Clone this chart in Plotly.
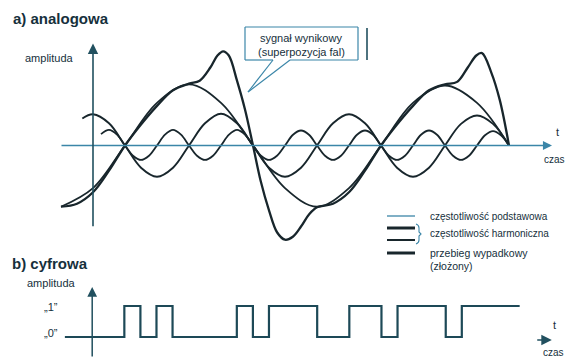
import plotly.graph_objects as go

W, H = 566, 359

# ---------------- data ----------------
# analog panel: phase of the fundamental (degrees) vs amplitude (fundamental = 1)
t_fund = [-90, -45, 0, 45, 90, 135, 180, 225, 270, 315, 360, 405, 450, 495, 540]
a_fund = [-1.02, -0.71, 0, 0.71, 1.02, 0.71, 0, -0.71, -1.02, -0.71, 0, 0.71, 1.0, 0.71, 0]

t_h2 = [-60, -45, -22.5, 0, 22.5, 45, 67.5, 90, 112.5, 135, 157.5, 180, 202.5, 225, 247.5,
        270, 292.5, 315, 337.5, 360, 382.5, 405, 427.5, 450, 472.5, 495, 517.5, 540]
a_h2 = [0.45, 0.52, 0.37, 0, -0.37, -0.52, -0.37, 0, 0.37, 0.53, 0.37, 0, -0.37, -0.52, -0.37,
        0, 0.37, 0.52, 0.37, 0, -0.37, -0.52, -0.37, 0, 0.36, 0.50, 0.36, 0]

t_h4 = [-33.75, -22.5, -11.25, 0, 11.25, 22.5, 33.75, 45, 56.25, 67.5, 78.75, 90, 101.25,
        112.5, 123.75, 135, 146.25, 157.5, 168.75, 180, 191.25, 202.5, 213.75, 225, 236.25,
        247.5, 258.75, 270, 281.25, 292.5, 303.75, 315, 326.25, 337.5, 348.75, 360, 371.25,
        382.5, 393.75, 405, 416.25, 427.5, 438.75, 450, 461.25, 472.5, 483.75, 495, 506.25,
        517.5, 528.75, 540]
a_h4 = [0.19, 0.26, 0.18, 0, -0.17, -0.24, -0.17, 0, 0.18, 0.26, 0.18, 0, -0.17,
        -0.24, -0.17, 0, 0.18, 0.26, 0.18, 0, -0.17, -0.24, -0.17, 0, 0.18,
        0.25, 0.18, 0, -0.17, -0.24, -0.17, 0, 0.18, 0.25, 0.18, 0, -0.17,
        -0.24, -0.17, 0, 0.18, 0.25, 0.18, 0, -0.17, -0.24, -0.17, 0, 0.17,
        0.24, 0.17, 0]

t_res = [-90, -67.5, -45, -22.5, 0, 22.5, 45, 67.5, 90, 105, 120, 130, 138, 146, 157.5, 168.75,
         180, 191, 202.5, 214, 225, 236, 247.5, 258.75, 270, 292.5, 315, 337.5, 360, 382.5,
         405, 427.5, 450, 467, 482, 494, 502, 515, 527, 540]
a_res = [-1.02, -0.97, -0.78, -0.42, 0, 0.35, 0.66, 0.92, 1.03, 1.08, 1.3, 1.5, 1.57, 1.5, 1.08, 0.6,
         0, -0.6, -1.08, -1.45, -1.57, -1.52, -1.35, -1.15, -1.03, -0.97, -0.78, -0.42, 0, 0.35,
         0.66, 0.92, 1.02, 1.06, 1.3, 1.5, 1.54, 1.22, 0.76, 0]

# digital panel: bit values per bit slot
bit_slots = list(range(0, 27))
bit_values = [0, 0, 1, 0, 1, 0, 0, 0, 0, 1, 0, 1, 1, 1, 0, 0, 1, 1, 0, 1, 1, 1, 0, 1, 1, 1, 1]
bit_start, bit_end = -1.7, 26.6

# ---------------- helpers (layout only) ----------------
def px(x):
    return x / W

def py(y):
    return 1 - y / H

INK = "#18262c"
TXT = "#16303c"
AXIS = "#21505f"
ZERO = "#3b86a8"

fig = go.Figure()

curve_style = dict(mode="lines", line_shape="spline", hoverinfo="skip", showlegend=False)
fig.add_trace(go.Scatter(x=t_fund, y=a_fund, line=dict(color=INK, width=1.8), xaxis="x", yaxis="y", **curve_style))
fig.add_trace(go.Scatter(x=t_h2, y=a_h2, line=dict(color=INK, width=1.9), xaxis="x", yaxis="y", **curve_style))
fig.add_trace(go.Scatter(x=t_h4, y=a_h4, line=dict(color=INK, width=1.8), xaxis="x", yaxis="y", **curve_style))
fig.add_trace(go.Scatter(x=t_res, y=a_res, line=dict(color=INK, width=2.3), xaxis="x", yaxis="y", **curve_style))

dx = [bit_start] + bit_slots + [bit_end]
dy = [0] + bit_values + [bit_values[-1]]
fig.add_trace(go.Scatter(x=dx, y=dy, mode="lines", line=dict(color="#1d4957", width=2.2, shape="hv"),
                         xaxis="x2", yaxis="y2", hoverinfo="skip", showlegend=False))

# analog axes: pixel x = 125 + t*128/180 ; pixel y = 145.5 - 60*a
fig.update_layout(
    width=W, height=H, margin=dict(l=0, r=0, t=0, b=0),
    paper_bgcolor="white", plot_bgcolor="rgba(0,0,0,0)",
    xaxis=dict(domain=[0, 1], range=[-175.78, 620.16], visible=False, fixedrange=True),
    yaxis=dict(domain=[1 - 260 / H, 1], range=[(145.5 - 260) / 60, 145.5 / 60], visible=False, fixedrange=True),
    xaxis2=dict(domain=[0, 1], range=[-92.2 / 16.07, (566 - 92.2) / 16.07], visible=False, fixedrange=True, anchor="y2"),
    yaxis2=dict(domain=[0, 1 - 260 / H], range=[(337 - 359) / 31, (337 - 260) / 31], visible=False, fixedrange=True, anchor="x2"),
)

ann = []
# analog axes arrows
ann.append(dict(x=600.5, y=0, ax=-91.4, ay=0, xref="x", yref="y", axref="x", ayref="y", text="",
                showarrow=True, arrowhead=2, arrowsize=1.3, arrowwidth=1.4, arrowcolor=ZERO))
ann.append(dict(x=-45, y=1.70, ax=-45, ay=-1.37, xref="x", yref="y", axref="x", ayref="y", text="",
                showarrow=True, arrowhead=2, arrowsize=1.3, arrowwidth=1.6, arrowcolor=AXIS))
# digital axes arrows
ann.append(dict(x=0, y=1.613, ax=0, ay=-0.677, xref="x2", yref="y2", axref="x2", ayref="y2", text="",
                showarrow=True, arrowhead=2, arrowsize=1.3, arrowwidth=1.5, arrowcolor=AXIS))
ann.append(dict(x=28.6, y=-0.1, ax=27.6, ay=-0.1, xref="x2", yref="y2", axref="x2", ayref="y2", text="",
                showarrow=True, arrowhead=2, arrowsize=1.4, arrowwidth=1.5, arrowcolor=AXIS))

def label(x, y, text, size=11, bold=False, anchor="left"):
    t = f"<b>{text}</b>" if bold else text
    ann.append(dict(x=px(x), y=py(y), xref="paper", yref="paper", text=t, showarrow=False,
                    xanchor=anchor, yanchor="middle",
                    font=dict(family="Liberation Sans, Arial, sans-serif", size=size, color=TXT)))

label(11, 19, "a) analogowa", size=15, bold=True)
label(23, 58, "amplituda", size=11)
label(557, 132, "t", size=11, anchor="center")
label(542, 160, "czas", size=10)

label(301, 38, "sygnał wynikowy", size=11, anchor="center")
label(301, 52, "(superpozycja fal)", size=11, anchor="center")

label(428, 216, "częstotliwość podstawowa", size=10)
label(428, 233, "częstotliwość harmoniczna", size=10)
label(428, 253, "przebieg wypadkowy", size=10.5)
label(428, 266, "(złożony)", size=10.5)

label(10, 263, "b) cyfrowa", size=15, bold=True)
label(25, 283, "amplituda", size=11)
label(42, 307, "„1”", size=11)
label(42, 333, "„0”", size=11)
label(554, 325, "t", size=11, anchor="center")
label(541, 352, "czas", size=10)

fig.update_layout(annotations=ann)

# callout box and legend keys (decoration shapes in paper coords)
shapes = []
def line(x0, y0, x1, y1, color, width):
    shapes.append(dict(type="line", xref="paper", yref="paper", x0=px(x0), y0=py(y0), x1=px(x1), y1=py(y1),
                       line=dict(color=color, width=width)))

line(245, 27, 358, 27, ZERO, 1.2)
line(245, 27, 245, 60, ZERO, 1.2)
line(358, 27, 358, 60, ZERO, 1.2)
line(245, 60, 273, 60, ZERO, 1.2)
line(290, 60, 358, 60, ZERO, 1.2)
line(273, 60, 248, 92, ZERO, 1.2)
line(290, 60, 248, 92, ZERO, 1.2)
line(367, 28, 367, 60, AXIS, 1.6)

line(387, 216, 415, 216, ZERO, 1.3)
line(387, 228, 415, 228, INK, 3.0)
line(387, 240, 415, 240, INK, 2.0)
line(387, 253, 415, 253, INK, 3.0)
shapes.append(dict(type="path", xref="paper", yref="paper",
                   path=f"M {px(416)},{py(224)} Q {px(419)},{py(225)} {px(419)},{py(228)} L {px(419)},{py(232)} "
                        f"L {px(421)},{py(234)} L {px(419)},{py(236)} L {px(419)},{py(240)} "
                        f"Q {px(419)},{py(243)} {px(416)},{py(244)}",
                   line=dict(color=ZERO, width=1.1)))
fig.update_layout(shapes=shapes)

fig.write_html("out.html", config={"displayModeBar": False},
               post_script="document.body.style.margin='0';document.body.style.overflow='hidden';")
